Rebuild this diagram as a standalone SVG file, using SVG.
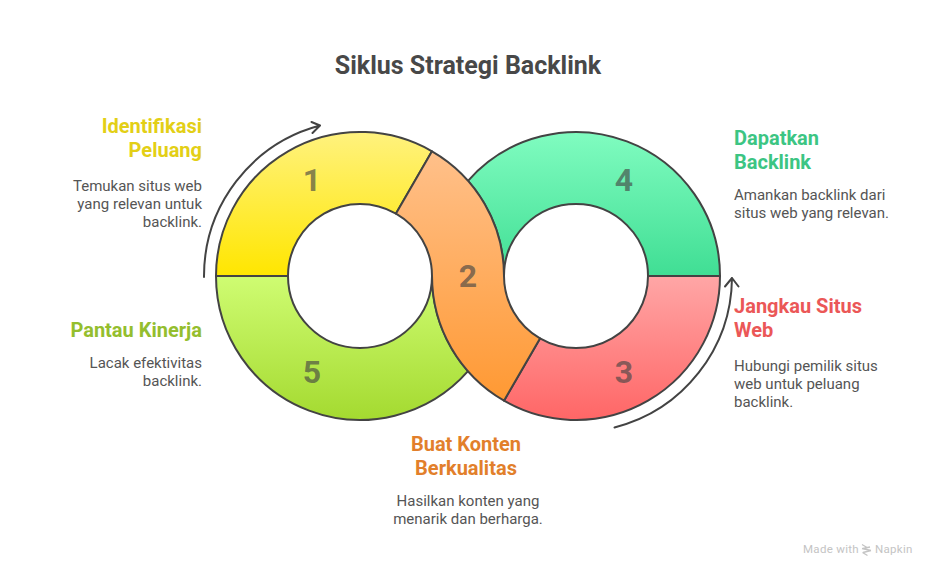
<svg xmlns="http://www.w3.org/2000/svg" width="936" height="577" viewBox="0 0 936 577">
<style>
text{font-family:Roboto,"Liberation Sans",sans-serif}
.seg{stroke:#434343;stroke-width:2;stroke-linejoin:round}
.arc{fill:none;stroke:#434343;stroke-width:2;stroke-linecap:round;stroke-linejoin:round}
.num{font-size:32px;font-weight:700;fill:#434343;fill-opacity:.65;text-anchor:middle}
.h{font-size:20px;font-weight:700}
.b{font-size:15px;fill:#555}
.e{text-anchor:end}
.m{text-anchor:middle}
</style>
<defs>
<linearGradient id="g1" x1="0" y1="0" x2="0" y2="1"><stop offset="0" stop-color="#FFF27E"/><stop offset="1" stop-color="#FFE600"/></linearGradient>
<linearGradient id="g2" x1="0" y1="0" x2="0" y2="1"><stop offset="0" stop-color="#FFC08A"/><stop offset="1" stop-color="#FF9933"/></linearGradient>
<linearGradient id="g3" x1="0" y1="0" x2="0" y2="1"><stop offset="0" stop-color="#FFA6A6"/><stop offset="1" stop-color="#FF6666"/></linearGradient>
<linearGradient id="g4" x1="0" y1="0" x2="0" y2="1"><stop offset="0" stop-color="#80FCC0"/><stop offset="1" stop-color="#40DE94"/></linearGradient>
<linearGradient id="g5" x1="0" y1="0" x2="0" y2="1"><stop offset="0" stop-color="#CFFC72"/><stop offset="1" stop-color="#A4DA30"/></linearGradient>
</defs>
<rect width="936" height="577" fill="#fff"/>
<text id="title" x="468" y="74" font-size="25" font-weight="700" fill="#484848" text-anchor="middle">Siklus Strategi Backlink</text>
<g id="node-4">
<path class="seg" fill="url(#g4)" d="M720 276A144 144 0 0 0 468 180.8A144 144 0 0 1 504 276A72 72 0 0 1 648 276Z"/>
<text class="num" x="624" y="191">4</text>
<text class="h" x="734" y="145" fill="#3CC583">Dapatkan</text>
<text class="h" x="734" y="169" fill="#3CC583">Backlink</text>
<text class="b" x="734" y="200">Amankan backlink dari</text>
<text class="b" x="734" y="218">situs web yang relevan.</text>
</g>
<g id="node-5">
<path class="seg" fill="url(#g5)" d="M216 276L288 276A72 72 0 0 0 432 276A144 144 0 0 0 468 371.2A144 144 0 0 1 216 276Z"/>
<text class="num" x="312" y="383">5</text>
<text class="h e" x="202" y="337" fill="#94BE2E">Pantau Kinerja</text>
<text class="b e" x="202" y="368">Lacak efektivitas</text>
<text class="b e" x="202" y="386">backlink.</text>
</g>
<g id="node-3">
<path class="seg" fill="url(#g3)" d="M720 276L648 276A72 72 0 0 1 540 338.4L504 400.7A144 144 0 0 0 720 276Z"/>
<text class="num" x="624" y="383">3</text>
<text class="h" x="734" y="313" fill="#EB5757">Jangkau Situs</text>
<text class="h" x="734" y="337" fill="#EB5757">Web</text>
<text class="b" x="734" y="371">Hubungi pemilik situs</text>
<text class="b" x="734" y="389">web untuk peluang</text>
<text class="b" x="734" y="407">backlink.</text>
</g>
<g id="node-1">
<path class="seg" fill="url(#g1)" d="M216 276A144 144 0 0 1 432 151.3L396 213.6A72 72 0 0 0 288 276Z"/>
<text class="num" x="312" y="191">1</text>
<text class="h e" x="202" y="133" fill="#E3CF16">Identifikasi</text>
<text class="h e" x="202" y="157" fill="#E3CF16">Peluang</text>
<text class="b e" x="202" y="191">Temukan situs web</text>
<text class="b e" x="202" y="209">yang relevan untuk</text>
<text class="b e" x="202" y="227">backlink.</text>
</g>
<g id="node-2">
<path class="seg" fill="url(#g2)" d="M432 151.3A144 144 0 0 1 504 276A72 72 0 0 0 540 338.4L504 400.7A144 144 0 0 1 432 276A72 72 0 0 0 396 213.6Z"/>
<text class="num" x="468" y="287">2</text>
<text class="h m" x="466" y="451" fill="#E27F2B">Buat Konten</text>
<text class="h m" x="466" y="475" fill="#E27F2B">Berkualitas</text>
<text class="b m" x="468" y="506">Hasilkan konten yang</text>
<text class="b m" x="468" y="524">menarik dan berharga.</text>
</g>
<g id="connectors">
<path class="arc" d="M204 277A156 156 0 0 1 320 125.5M311.500 122L320 125.500L312.500 133"/>
<path class="arc" d="M614.500 427.500A156 156 0 0 0 732 278M725 286.500L732 278L738.500 286.500"/>
</g>
<g id="watermark" fill="#c4c4c4">
<text x="803" y="553" font-size="11.500" letter-spacing=".3">Made with</text>
<path d="M862 544.500l5 3M862 548.500l9 2M862.500 552.500l5 3M870 547l-7 1.500M871 550.500l-8 2" fill="none" stroke="#c4c4c4" stroke-width="1.300"/>
<text x="875" y="553" font-size="11.500" letter-spacing=".3">Napkin</text>
</g>
</svg>
